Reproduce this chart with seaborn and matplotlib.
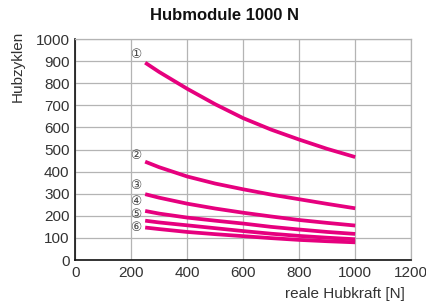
import numpy as np
import pandas as pd
import matplotlib
matplotlib.use("Agg")
import matplotlib.pyplot as plt
import seaborn as sns

# Daten
kraft = [250, 300, 400, 500, 600, 700, 800, 900, 1000]
kurve1 = [893, 851, 775, 705, 642, 590, 545, 503, 466]
kurve2 = [445, 420, 378, 346, 320, 296, 275, 254, 234]
kurve3 = [298, 282, 255, 233, 214, 197, 181, 168, 156]
kurve4 = [222, 210, 192, 178, 165, 150, 138, 127, 118]
kurve5 = [178, 170, 157, 144, 131, 119, 109, 101, 94]
kurve6 = [147, 140, 127, 117, 108, 99, 91, 85, 80]
marken = ["①", "②", "③", "④", "⑤", "⑥"]
marken_y = [928, 475, 339, 267, 204, 145]

df = pd.DataFrame({"kraft": kraft * 6,
                   "zyklen": kurve1 + kurve2 + kurve3 + kurve4 + kurve5 + kurve6,
                   "kurve": sum([[m] * len(kraft) for m in marken], [])})

sns.set_style("white")
plt.rcParams['font.family'] = ['Liberation Sans', 'DejaVu Sans']

fig = plt.figure(figsize=(4.27, 3.05), dpi=100)
ax = fig.add_axes([0.176, 0.1475, 0.787, 0.7245])

sns.lineplot(data=df, x="kraft", y="zyklen", units="kurve", estimator=None,
             color="#e6007e", lw=2.7, ax=ax, solid_capstyle="butt", solid_joinstyle="round")

for m, y in zip(marken, marken_y):
    ax.text(215, y, m, fontsize=9, color="#444444", ha="center", va="center",
            family=['DejaVu Sans'])

ax.set_xlim(0, 1200)
ax.set_ylim(0, 1000)
ax.set_xticks(range(0, 1201, 200))
ax.set_yticks(range(0, 1001, 100))
ax.grid(True, color="#b4b4b4", lw=0.9)
ax.tick_params(labelsize=11, labelcolor="#333333", length=0, pad=4)
for s in ["top", "right"]:
    ax.spines[s].set_color("#b4b4b4")
    ax.spines[s].set_linewidth(0.9)
for s in ["left", "bottom"]:
    ax.spines[s].set_color("#111111")
    ax.spines[s].set_linewidth(1.2)

ax.set_xlabel("")
ax.set_ylabel("")
fig.text(0.948, 0.035, "reale Hubkraft [N]", fontsize=11, color="#333333", ha="right", va="center")
fig.text(0.042, 0.9, "Hubzyklen", fontsize=11, color="#333333", rotation=90, ha="center", va="top")
fig.text(0.525, 0.95, "Hubmodule 1000 N", fontsize=12, fontweight="bold", color="#111111",
         ha="center", va="center")

fig.savefig("out.png", dpi=100)
